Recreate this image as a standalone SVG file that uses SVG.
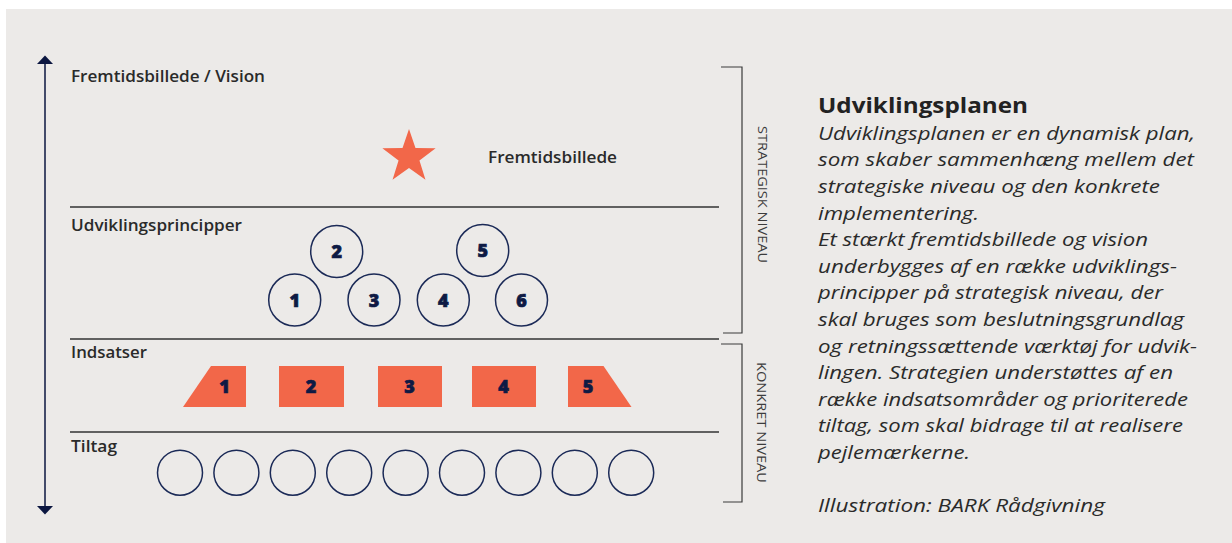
<svg xmlns="http://www.w3.org/2000/svg" width="1232" height="543" viewBox="0 0 1232 543">
  <defs>
    <style>
      .bg { fill: #ECEAE8; }
      .lbl { font-family: "Open Sans", "Liberation Sans", sans-serif; font-weight: 600; font-size: 15.5px; fill: #2A2A2A; }
      .num { font-family: "Open Sans", "Liberation Sans", sans-serif; font-weight: 800; font-size: 18px; fill: #0E1A44; stroke: #0E1A44; stroke-width: 0.7; text-anchor: middle; }
      .pc { fill: none; stroke: #1B2A57; stroke-width: 1.5; }
      .orange { fill: #F26749; }
      .hline { stroke: #333333; stroke-width: 1.5; fill: none; }
      .brk { stroke: #3A3A3A; stroke-width: 1.2; fill: none; }
      .side { font-family: "Open Sans", "Liberation Sans", sans-serif; font-weight: 400; font-size: 13.5px; fill: #3C3C3C; }
      .head { font-family: "Open Sans", "Liberation Sans", sans-serif; font-weight: 700; font-size: 21px; fill: #222222; }
      .body { font-family: "Open Sans", "Liberation Sans", sans-serif; font-style: italic; font-size: 18.5px; fill: #2A2A2A; }
    </style>
    <marker id="arr" markerUnits="userSpaceOnUse" viewBox="0 0 9 16" refX="0" refY="8" markerWidth="9" markerHeight="16" orient="auto-start-reverse">
      <path d="M0,0 L8.5,8 L0,16 Z" fill="#0B1640"/>
    </marker>
  </defs>

  <rect class="bg" x="6" y="9" width="1226" height="534"/>

  <g id="connectors">
    <line x1="45" y1="64" x2="45" y2="506" stroke="#0B1640" stroke-width="1.5" marker-start="url(#arr)" marker-end="url(#arr)"/>
    <line class="hline" x1="70" y1="207" x2="719" y2="207"/>
    <line class="hline" x1="70" y1="339" x2="719" y2="339"/>
    <line class="hline" x1="70" y1="432" x2="719" y2="432"/>
    <polyline class="brk" points="721,67 742,67 742,333 723,333"/>
    <polyline class="brk" points="721,344 742,344 742,502 723,502"/>
  </g>

  <g id="level-labels">
    <text class="lbl" x="71" y="82" textLength="194" lengthAdjust="spacingAndGlyphs">Fremtidsbillede / Vision</text>
    <text class="lbl" x="71" y="230.5" textLength="171" lengthAdjust="spacingAndGlyphs">Udviklingsprincipper</text>
    <text class="lbl" x="71" y="358" textLength="76" lengthAdjust="spacingAndGlyphs">Indsatser</text>
    <text class="lbl" x="71" y="452" textLength="46" lengthAdjust="spacingAndGlyphs">Tiltag</text>
  </g>

  <g id="side-labels">
    <text class="side" transform="translate(757.5,126) rotate(90)" x="0" y="0" textLength="137" lengthAdjust="spacingAndGlyphs">STRATEGISK NIVEAU</text>
    <text class="side" transform="translate(756.5,362) rotate(90)" x="0" y="0" textLength="121" lengthAdjust="spacingAndGlyphs">KONKRET NIVEAU</text>
  </g>

  <g id="vision">
    <path class="orange" d="M409,129 L415.47,148.1 L435.63,148.35 L419.46,160.4 L425.46,179.65 L409,168 L392.54,179.65 L398.54,160.4 L382.37,148.35 L402.53,148.1 Z"/>
    <text class="lbl" x="488" y="163.3" textLength="129" lengthAdjust="spacingAndGlyphs">Fremtidsbillede</text>
  </g>

  <g id="principle-1"><circle class="pc" cx="294.7" cy="300" r="26"/><text class="num" x="294.7" y="306.5">1</text></g>
  <g id="principle-2"><circle class="pc" cx="336.7" cy="251.5" r="26"/><text class="num" x="336.7" y="258">2</text></g>
  <g id="principle-3"><circle class="pc" cx="374" cy="300" r="26"/><text class="num" x="374" y="306.5">3</text></g>
  <g id="principle-4"><circle class="pc" cx="443.3" cy="300" r="26"/><text class="num" x="443.3" y="306.5">4</text></g>
  <g id="principle-5"><circle class="pc" cx="482.7" cy="250.5" r="26"/><text class="num" x="482.7" y="257">5</text></g>
  <g id="principle-6"><circle class="pc" cx="521.5" cy="300" r="26"/><text class="num" x="521.5" y="306.5">6</text></g>

  <g id="indsats-1"><polygon class="orange" points="211,366 246,366 246,407 183,407"/><text class="num" x="224.5" y="393">1</text></g>
  <g id="indsats-2"><rect class="orange" x="279" y="366" width="65" height="41"/><text class="num" x="311" y="393">2</text></g>
  <g id="indsats-3"><rect class="orange" x="378" y="366" width="64" height="41"/><text class="num" x="409.5" y="393">3</text></g>
  <g id="indsats-4"><rect class="orange" x="472" y="366" width="64" height="41"/><text class="num" x="503.5" y="393">4</text></g>
  <g id="indsats-5"><polygon class="orange" points="568,366 603.5,366 631.5,407 568,407"/><text class="num" x="588" y="393">5</text></g>

  <g id="tiltag">
    <circle class="pc" cx="180" cy="472.7" r="22.5"/>
    <circle class="pc" cx="236.4" cy="472.7" r="22.5"/>
    <circle class="pc" cx="292.8" cy="472.7" r="22.5"/>
    <circle class="pc" cx="349.2" cy="472.7" r="22.5"/>
    <circle class="pc" cx="405.6" cy="472.7" r="22.5"/>
    <circle class="pc" cx="462" cy="472.7" r="22.5"/>
    <circle class="pc" cx="518.4" cy="472.7" r="22.5"/>
    <circle class="pc" cx="574.8" cy="472.7" r="22.5"/>
    <circle class="pc" cx="631.2" cy="472.7" r="22.5"/>
  </g>

  <g id="description">
    <text class="head" x="818" y="112.5" textLength="210" lengthAdjust="spacingAndGlyphs">Udviklingsplanen</text>
    <text class="body" x="818" y="139.8" textLength="377" lengthAdjust="spacingAndGlyphs">Udviklingsplanen er en dynamisk plan,</text>
    <text class="body" x="818" y="166.4" textLength="376" lengthAdjust="spacingAndGlyphs">som skaber sammenhæng mellem det</text>
    <text class="body" x="818" y="193" textLength="342" lengthAdjust="spacingAndGlyphs">strategiske niveau og den konkrete</text>
    <text class="body" x="818" y="219.6" textLength="161" lengthAdjust="spacingAndGlyphs">implementering.</text>
    <text class="body" x="818" y="246.2" textLength="330" lengthAdjust="spacingAndGlyphs">Et stærkt fremtidsbillede og vision</text>
    <text class="body" x="818" y="272.8" textLength="359" lengthAdjust="spacingAndGlyphs">underbygges af en række udviklings-</text>
    <text class="body" x="818" y="299.4" textLength="345" lengthAdjust="spacingAndGlyphs">principper på strategisk niveau, der</text>
    <text class="body" x="818" y="326" textLength="366" lengthAdjust="spacingAndGlyphs">skal bruges som beslutningsgrundlag</text>
    <text class="body" x="818" y="352.6" textLength="379" lengthAdjust="spacingAndGlyphs">og retningssættende værktøj for udvik-</text>
    <text class="body" x="818" y="379.2" textLength="355" lengthAdjust="spacingAndGlyphs">lingen. Strategien understøttes af en</text>
    <text class="body" x="818" y="405.8" textLength="370" lengthAdjust="spacingAndGlyphs">række indsatsområder og prioriterede</text>
    <text class="body" x="818" y="432.4" textLength="365" lengthAdjust="spacingAndGlyphs">tiltag, som skal bidrage til at realisere</text>
    <text class="body" x="818" y="459" textLength="152" lengthAdjust="spacingAndGlyphs">pejlemærkerne.</text>
    <text class="body" x="818" y="512.2" textLength="287" lengthAdjust="spacingAndGlyphs">Illustration: BARK Rådgivning</text>
  </g>
</svg>
